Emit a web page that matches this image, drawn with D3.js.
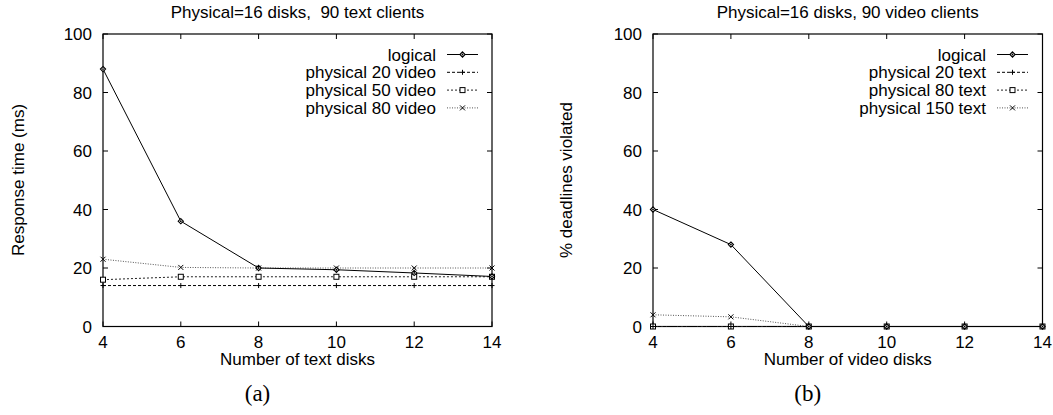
<!DOCTYPE html>
<html>
<head>
<meta charset="utf-8">
<script src="https://cdn.jsdelivr.net/npm/d3@7"></script>
<style>
  body { margin: 0; background: #fff; }
  svg text { font-family: "Liberation Sans", Arial, sans-serif; fill: #000; }
</style>
</head>
<body>
<svg id="chart" width="1053" height="415"></svg>
<script>
// shared x values
let xTicks = [4, 6, 8, 10, 12, 14];
let yTicks = [0, 20, 40, 60, 80, 100];

// panel (a): response time
let aLogical = [88, 36, 20, 19.4, 18.3, 17.1];
let aPhys20 = [14, 14, 14, 14, 14, 14];
let aPhys50 = [16, 17, 17, 17, 17, 17];
let aPhys80 = [23, 20.2, 20, 20, 20, 20];
let aNames = ["logical", "physical 20 video", "physical 50 video", "physical 80 video"];

// panel (b): deadlines violated
let bLogical = [40, 28, 0, 0, 0, 0];
let bPhys20 = [0, 0, 0, 0, 0, 0];
let bPhys80 = [0, 0, 0, 0, 0, 0];
let bPhys150 = [4, 3.3, 0, 0, 0, 0];
let bNames = ["logical", "physical 20 text", "physical 80 text", "physical 150 text"];

// line styles per series index
let dashes = [null, "3,2", "2,2", "1,1.5"];
let strokes = ["#000", "#000", "#222", "#555"];
let markers = ["diamond", "plus", "square", "cross"];

let svg = d3.select("#chart");

function marker(g, type, x, y) {
  if (type == "diamond") {
    g.append("path")
      .attr("d", `M${x},${y - 2.6} L${x + 2.6},${y} L${x},${y + 2.6} L${x - 2.6},${y} Z`)
      .attr("fill", "#fff").attr("stroke", "#000").attr("stroke-width", 1.1);
    g.append("circle").attr("cx", x).attr("cy", y).attr("r", 0.9).attr("fill", "#000");
  } else if (type == "plus") {
    g.append("path")
      .attr("d", `M${x - 2.5},${y} H${x + 2.5} M${x},${y - 2.5} V${y + 2.5}`)
      .attr("stroke", "#000").attr("stroke-width", 1);
  } else if (type == "square") {
    g.append("rect")
      .attr("x", x - 2.5).attr("y", y - 2.5).attr("width", 5).attr("height", 5)
      .attr("fill", "#fff").attr("stroke", "#000").attr("stroke-width", 1);
  } else {
    g.append("path")
      .attr("d", `M${x - 2.5},${y - 2.5} L${x + 2.5},${y + 2.5} M${x - 2.5},${y + 2.5} L${x + 2.5},${y - 2.5}`)
      .attr("stroke", "#000").attr("stroke-width", 1);
  }
}

function panel(opt) {
  let x = d3.scaleLinear().domain([4, 14]).range([opt.left, opt.right]);
  let y = d3.scaleLinear().domain([0, 100]).range([326.5, 34]);
  let g = svg.append("g");

  // ticks, mirrored on all sides, pointing inward
  yTicks.forEach(t => {
    g.append("line").attr("x1", opt.left).attr("x2", opt.left + 5)
      .attr("y1", y(t)).attr("y2", y(t)).attr("stroke", "#000");
    g.append("line").attr("x1", opt.right).attr("x2", opt.right - 5)
      .attr("y1", y(t)).attr("y2", y(t)).attr("stroke", "#000");
    g.append("text").attr("x", opt.left - 11).attr("y", y(t) + 6)
      .attr("text-anchor", "end").style("font-size", "17px").text(t);
  });
  xTicks.forEach(t => {
    g.append("line").attr("x1", x(t)).attr("x2", x(t))
      .attr("y1", y(0)).attr("y2", y(0) - 5).attr("stroke", "#000");
    g.append("line").attr("x1", x(t)).attr("x2", x(t))
      .attr("y1", y(100)).attr("y2", y(100) + 5).attr("stroke", "#000");
    g.append("text").attr("x", x(t)).attr("y", 348)
      .attr("text-anchor", "middle").style("font-size", "17px").text(t);
  });

  g.append("rect").attr("x", opt.left).attr("y", y(100))
    .attr("width", opt.right - opt.left).attr("height", y(0) - y(100))
    .attr("fill", "none").attr("stroke", "#000").attr("stroke-width", 1.2);

  // titles and labels
  g.append("text").attr("x", (opt.left + opt.right) / 2).attr("y", 18)
    .attr("text-anchor", "middle").style("font-size", "17px")
    .style("white-space", "pre").text(opt.title);
  g.append("text").attr("x", (opt.left + opt.right) / 2).attr("y", 365)
    .attr("text-anchor", "middle").style("font-size", "17px").text(opt.xLabel);
  g.append("text")
    .attr("transform", `translate(${opt.yLabelX},180) rotate(-90)`)
    .attr("text-anchor", "middle").style("font-size", "17px").text(opt.yLabel);
  g.append("text").attr("x", (opt.left + opt.right) / 2 - 40).attr("y", 401)
    .attr("text-anchor", "middle")
    .style("font-family", "'Liberation Serif', 'Times New Roman', serif")
    .style("font-size", "23px").text(opt.tag);

  let line = d3.line().x((d, i) => x(xTicks[i])).y(d => y(d));

  // draw in reverse so logical sits on top
  for (let s = opt.series.length - 1; s >= 0; s--) {
    let vals = opt.series[s];
    g.append("path").datum(vals).attr("d", line)
      .attr("fill", "none").attr("stroke", strokes[s]).attr("stroke-width", 1)
      .attr("stroke-dasharray", dashes[s]);
    vals.forEach((v, i) => marker(g, markers[s], x(xTicks[i]), y(v)));
  }

  // legend
  opt.names.forEach((n, s) => {
    let ly = 54.5 + s * 17.8;
    g.append("text").attr("x", opt.legX).attr("y", ly + 6)
      .attr("text-anchor", "end").style("font-size", "17px").text(n);
    g.append("line").attr("x1", opt.legX + 11).attr("x2", opt.legX + 42)
      .attr("y1", ly).attr("y2", ly)
      .attr("stroke", strokes[s]).attr("stroke-dasharray", dashes[s]);
    marker(g, markers[s], opt.legX + 26.5, ly);
  });
}

panel({
  left: 103, right: 492,
  title: "Physical=16 disks,  90 text clients",
  xLabel: "Number of text disks",
  yLabel: "Response time (ms)",
  yLabelX: 24,
  tag: "(a)",
  series: [aLogical, aPhys20, aPhys50, aPhys80],
  names: aNames,
  legX: 436
});

panel({
  left: 653, right: 1042.5,
  title: "Physical=16 disks, 90 video clients",
  xLabel: "Number of video disks",
  yLabel: "% deadlines violated",
  yLabelX: 572,
  tag: "(b)",
  series: [bLogical, bPhys20, bPhys80, bPhys150],
  names: bNames,
  legX: 986
});
</script>
</body>
</html>
